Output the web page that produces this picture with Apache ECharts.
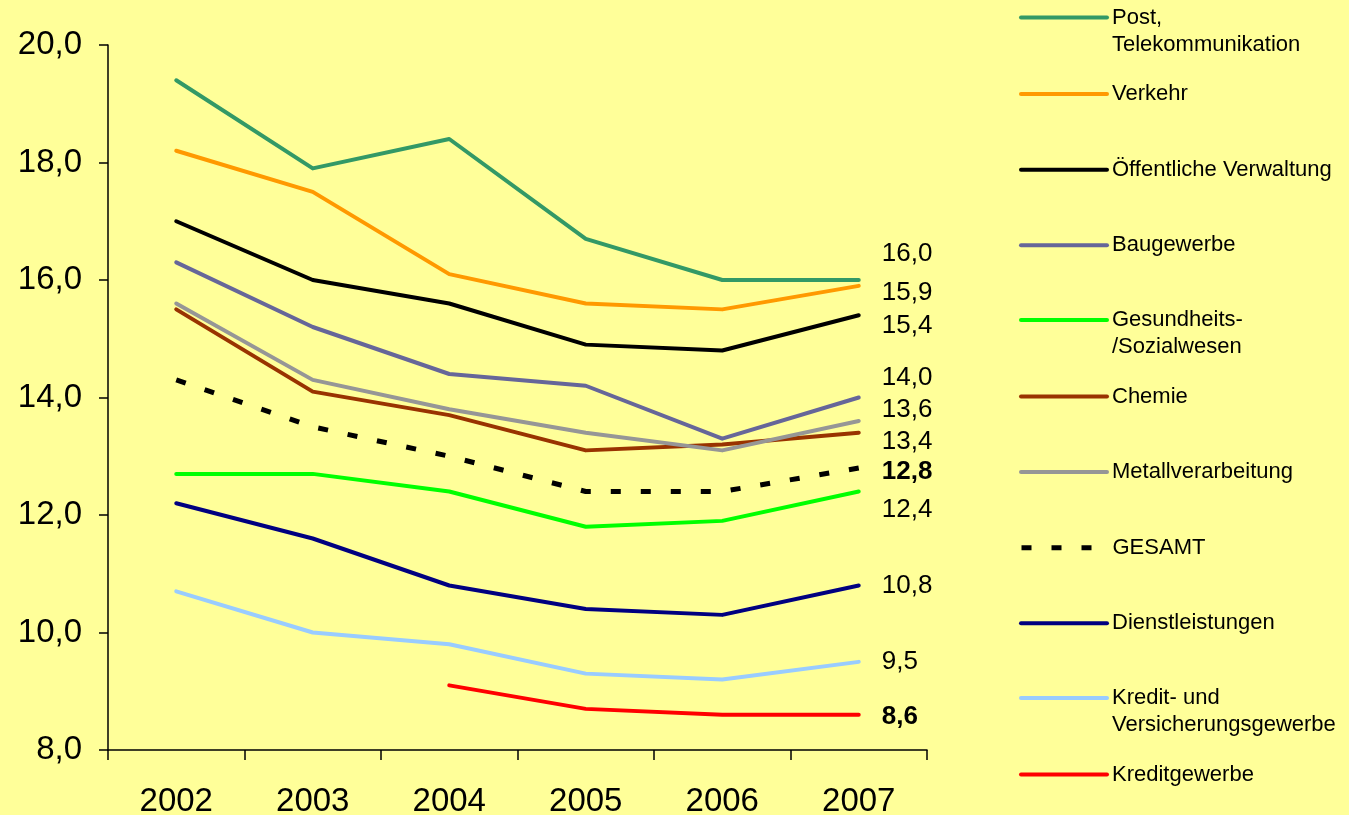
<!DOCTYPE html>
<html>
<head>
<meta charset="utf-8">
<script src="https://cdn.jsdelivr.net/npm/echarts@6/dist/echarts.min.js"></script>
<style>
  html, body { margin: 0; padding: 0; background: #ffff99; }
  #chart { width: 1349px; height: 815px; }
</style>
</head>
<body>
<div id="chart"></div>
<script>
const years = ["2002", "2003", "2004", "2005", "2006", "2007"];

const post = [19.4, 17.9, 18.4, 16.7, 16.0, 16.0];
const verkehr = [18.2, 17.5, 16.1, 15.6, 15.5, 15.9];
const verwaltung = [17.0, 16.0, 15.6, 14.9, 14.8, 15.4];
const bau = [16.3, 15.2, 14.4, 14.2, 13.3, 14.0];
const gesundheit = [12.7, 12.7, 12.4, 11.8, 11.9, 12.4];
const chemie = [15.5, 14.1, 13.7, 13.1, 13.2, 13.4];
const metall = [15.6, 14.3, 13.8, 13.4, 13.1, 13.6];
const gesamt = [14.3, 13.5, 13.0, 12.4, 12.4, 12.8];
const dienst = [12.2, 11.6, 10.8, 10.4, 10.3, 10.8];
const kreditVers = [10.7, 10.0, 9.8, 9.3, 9.2, 9.5];
const kredit = [null, null, 9.1, 8.7, 8.6, 8.6];

const font = "'Liberation Sans', Arial, sans-serif";
const fmt = (v) => Number(v).toFixed(1).replace(".", ",");

// name, data, colour, end-label shift, two-line legend text, bold label, dashed
const lines = [
  { name: "Post,\nTelekommunikation", data: post, color: "#339966", dy: -26, twoLine: true },
  { name: "Verkehr", data: verkehr, color: "#ff9900", dy: 7 },
  { name: "Öffentliche Verwaltung", data: verwaltung, color: "#000000", dy: 11 },
  { name: "Baugewerbe", data: bau, color: "#666699", dy: -20 },
  { name: "Gesundheits-\n/Sozialwesen", data: gesundheit, color: "#00ff00", dy: 18, twoLine: true },
  { name: "Chemie", data: chemie, color: "#993300", dy: 9 },
  { name: "Metallverarbeitung", data: metall, color: "#969696", dy: -11 },
  { name: "GESAMT", data: gesamt, color: "#000000", dy: 4, bold: true, dashed: true },
  { name: "Dienstleistungen", data: dienst, color: "#000080", dy: 0 },
  { name: "Kredit- und\nVersicherungsgewerbe", data: kreditVers, color: "#99ccff", dy: 0, twoLine: true },
  { name: "Kreditgewerbe", data: kredit, color: "#ff0000", dy: 2, bold: true },
];

const dash = [10, 20];

const series = lines.map((l) => ({
  name: l.name,
  type: "line",
  data: l.data,
  symbol: "none",
  showSymbol: false,
  lineStyle: {
    color: l.color,
    width: l.dashed ? 5 : 4,
    type: l.dashed ? dash : "solid",
    cap: l.dashed ? "butt" : "round",
    join: "round",
  },
  itemStyle: { color: l.color },
  emphasis: { disabled: true },
  endLabel: {
    show: true,
    distance: 23,
    offset: [0, l.dy],
    color: "#000",
    fontFamily: font,
    fontSize: 26,
    fontWeight: l.bold ? "bold" : "normal",
    formatter: (p) => fmt(p.value),
  },
}));

// one legend block per entry so the rows stay evenly spaced;
// two-line names get an empty first line so the swatch sits on the first text line
const legends = lines.map((l, i) => {
  const rowY = 17 + i * 75.6;
  const pos = l.twoLine ? { bottom: 815 - rowY - 41 } : { top: rowY - 12 };
  return Object.assign({
    orient: "vertical",
    left: 1019,
    padding: 0,
    itemWidth: 86,
    itemHeight: 27,
    selectedMode: false,
    itemStyle: { opacity: 0 },
    lineStyle: { width: l.dashed ? 5 : 4 },
    textStyle: {
      color: "#000",
      fontFamily: font,
      fontSize: 22,
      lineHeight: 27,
    },
    formatter: (name) => (l.twoLine ? " \n" + name : name),
    data: [l.name],
  }, pos);
});

const chart = echarts.init(document.getElementById("chart"));
chart.setOption({
  animation: false,
  backgroundColor: "#ffff99",
  grid: { left: 108, right: 422, top: 45, bottom: 65, outerBoundsMode: "none" },
  legend: legends,
  xAxis: {
    type: "category",
    data: years,
    boundaryGap: true,
    axisLine: { lineStyle: { color: "#000", width: 1.5 } },
    axisTick: { show: true, length: 10, lineStyle: { color: "#000", width: 1.5 } },
    axisLabel: { color: "#000", fontFamily: font, fontSize: 33, margin: 35 },
    splitLine: { show: false },
  },
  yAxis: {
    type: "value",
    min: 8,
    max: 20,
    interval: 2,
    axisLine: { show: true, lineStyle: { color: "#000", width: 1.5 } },
    axisTick: { show: true, length: 9, lineStyle: { color: "#000", width: 1.5 } },
    axisLabel: { color: "#000", fontFamily: font, fontSize: 33, margin: 26, formatter: fmt },
    splitLine: { show: false },
  },
  series: series,
});
</script>
</body>
</html>
